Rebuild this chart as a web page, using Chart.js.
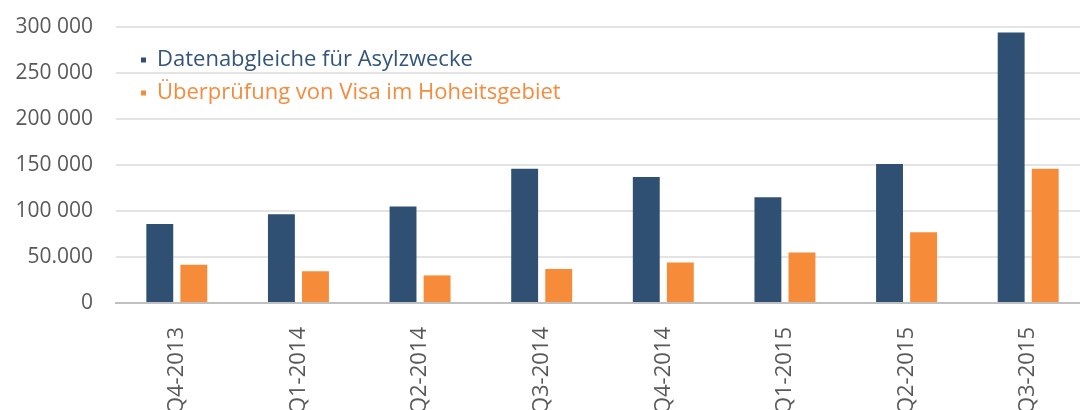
<!DOCTYPE html>
<html>
<head>
<meta charset="utf-8">
<script src="https://cdn.jsdelivr.net/npm/chart.js@4"></script>
<style>
  body { margin: 0; background: #fff; }
  #wrap { width: 1080px; height: 410px; overflow: hidden; }
</style>
</head>
<body>
<div id="wrap"><canvas id="chart" width="1089" height="410"></canvas></div>
<script>
// Data
const quarters = ['Q4-2013', 'Q1-2014', 'Q2-2014', 'Q3-2014', 'Q4-2014', 'Q1-2015', 'Q2-2015', 'Q3-2015'];
const asylumChecks = [86000, 96500, 105000, 146000, 137000, 115000, 151000, 294000];
const visaChecks = [41500, 34500, 30000, 37000, 44000, 55000, 77000, 146000];
const seriesNames = ['Datenabgleiche für Asylzwecke', 'Überprüfung von Visa im Hoheitsgebiet'];
const yTickLabels = ['0', '50.000', '100 000', '150 000', '200 000', '250 000', '300 000'];

const blue = '#2f5072';
const orange = '#f68c39';
const tickGray = '#595959';
const font = 'Open Sans';

// nudge the legend inside the plot area
const legendShift = {
    id: 'legendShift',
    afterLayout(chart) {
        chart.legend.left += 14;
        chart.legend.top += 38;
    }
};

const ctx = document.getElementById('chart').getContext('2d');
new Chart(ctx, {
    type: 'bar',
    data: {
        labels: quarters,
        datasets: [{
            label: seriesNames[0],
            data: asylumChecks,
            backgroundColor: blue,
            borderWidth: 0
        }, {
            label: seriesNames[1],
            data: visaChecks,
            backgroundColor: orange,
            borderWidth: 0
        }]
    },
    options: {
        responsive: false,
        animation: false,
        categoryPercentage: 0.56,
        barPercentage: 0.79,
        layout: { padding: { top: 27, right: 0, bottom: 0, left: 0 } },
        plugins: {
            tooltip: { enabled: false },
            legend: {
                position: 'chartArea',
                align: 'start',
                labels: {
                    boxWidth: 5,
                    boxHeight: 5,
                    padding: 11,
                    font: { family: font, size: 22 },
                    generateLabels(chart) {
                        const items = Chart.defaults.plugins.legend.labels.generateLabels(chart);
                        items.forEach((it, i) => {
                            it.fontColor = i === 0 ? '#34557a' : '#f68b3d';
                            it.lineWidth = 0;
                        });
                        return items;
                    }
                }
            }
        },
        scales: {
            x: {
                grid: { display: false },
                border: { display: true, color: '#c0c0c0', width: 2 },
                ticks: {
                    color: tickGray,
                    font: { family: font, size: 22 },
                    minRotation: 90,
                    maxRotation: 90,
                    padding: 16
                },
                afterFit(scale) {
                    scale.height = 107;
                    scale.paddingLeft = 0;
                    scale.paddingRight = 0;
                }
            },
            y: {
                min: 0,
                max: 300000,
                border: { display: false },
                grid: {
                    drawTicks: false,
                    lineWidth: 2,
                    color: c => c.tick.value === 0 ? '#c0c0c0' : '#e4e4e4'
                },
                ticks: {
                    stepSize: 50000,
                    color: tickGray,
                    padding: 23,
                    font: { family: font, size: 21 },
                    callback: (v, i) => yTickLabels[i]
                },
                afterFit(scale) {
                    scale.width = 116;
                    scale.paddingTop = 0;
                    scale.paddingBottom = 0;
                }
            }
        }
    },
    plugins: [legendShift]
});
</script>
</body>
</html>
